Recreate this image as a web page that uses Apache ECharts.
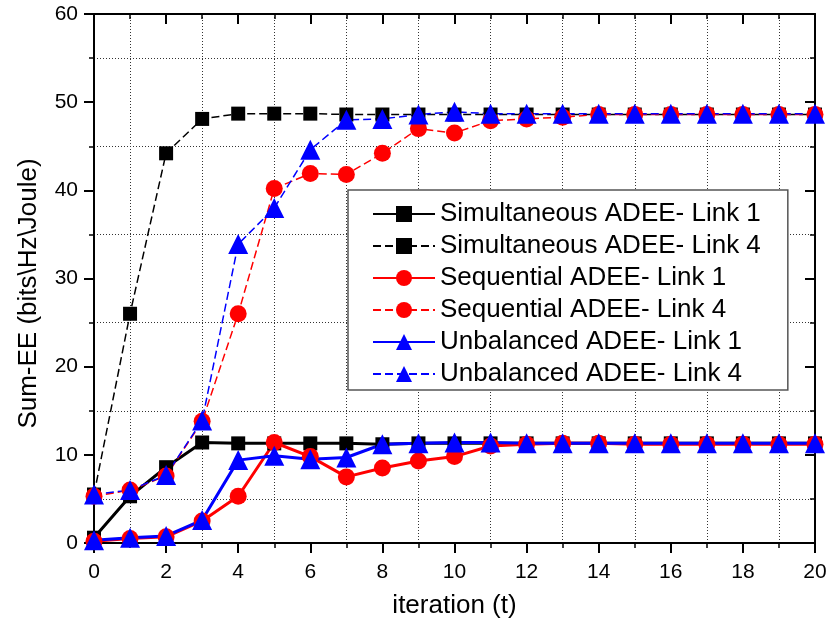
<!DOCTYPE html>
<html>
<head>
    <meta charset="utf-8">
    <title>Sum-EE vs iteration</title>
    <script src="https://cdn.jsdelivr.net/npm/echarts@6/dist/echarts.min.js"></script>
    <style>
        html, body { margin: 0; padding: 0; background: #fff; }
        #chart { width: 830px; height: 631px; }
    </style>
</head>
<body>
    <div id="chart"></div>
    <script type="text/javascript">
        // data
        var iterations = [0, 1, 2, 3, 4, 5, 6, 7, 8, 9, 10, 11, 12, 13, 14, 15, 16, 17, 18, 19, 20];
        var simLink1 = [0.6, 5.3, 8.6, 11.4, 11.3, 11.3, 11.3, 11.3, 11.2, 11.3, 11.3, 11.3, 11.3, 11.3, 11.3, 11.3, 11.3, 11.3, 11.3, 11.3, 11.3];
        var simLink4 = [5.5, 26.0, 44.2, 48.1, 48.7, 48.7, 48.7, 48.6, 48.6, 48.6, 48.6, 48.6, 48.6, 48.6, 48.6, 48.6, 48.6, 48.6, 48.6, 48.6, 48.6];
        var seqLink1 = [0.2, 0.5, 0.7, 2.5, 5.3, 11.4, 9.8, 7.5, 8.5, 9.3, 9.8, 11.0, 11.2, 11.3, 11.3, 11.2, 11.2, 11.2, 11.2, 11.2, 11.2];
        var seqLink4 = [5.3, 6.0, 7.6, 13.8, 26.0, 40.2, 41.9, 41.8, 44.2, 47.0, 46.5, 47.9, 48.1, 48.3, 48.6, 48.6, 48.6, 48.6, 48.6, 48.6, 48.6];
        var unbLink1 = [0.3, 0.6, 0.8, 2.6, 9.4, 9.9, 9.5, 9.7, 11.2, 11.3, 11.4, 11.4, 11.3, 11.3, 11.3, 11.3, 11.3, 11.3, 11.3, 11.3, 11.3];
        var unbLink4 = [5.5, 6.0, 7.7, 13.9, 33.9, 38.0, 44.6, 48.0, 48.1, 48.6, 48.9, 48.7, 48.7, 48.7, 48.7, 48.7, 48.7, 48.7, 48.7, 48.7, 48.7];

        var FONT = "'Liberation Sans', Arial, sans-serif";

        function pairs(vals) {
            return iterations.map(function (t, i) { return [t, vals[i]]; });
        }

        function mkSeries(name, vals, color, symbol, size, dashed) {
            return {
                name: name,
                type: 'line',
                xAxisIndex: 0,
                yAxisIndex: 0,
                data: pairs(vals),
                symbol: symbol,
                symbolSize: size,
                showAllSymbol: true,
                itemStyle: { color: color, opacity: 1 },
                lineStyle: dashed ? { color: color, width: 1.5, type: [8, 4] } : { color: color, width: 3 },
                emphasis: { disabled: true }
            };
        }

        var chart = echarts.init(document.getElementById('chart'));

        var tickStyle = { color: '#000', width: 2 };
        var minorTickStyle = { color: '#000', width: 1.5 };
        var gridLine = { show: true, lineStyle: { color: '#333', width: 1, type: [1, 2] } };

        var option = {
            animation: false,
            backgroundColor: '#fff',
            grid: { left: 94, right: 15, top: 14, bottom: 88 },
            legend: {
                orient: 'vertical',
                left: 348,
                top: 190,
                padding: [11, 27, 3, 24],
                itemWidth: 62,
                itemHeight: 20,
                itemGap: 6,
                backgroundColor: '#fff',
                borderColor: '#555',
                borderWidth: 1.5,
                textStyle: { fontFamily: FONT, fontSize: 26, color: '#000' },
                data: ['Simultaneous ADEE- Link 1', 'Simultaneous ADEE- Link 4',
                       'Sequential ADEE- Link 1', 'Sequential ADEE- Link 4',
                       'Unbalanced ADEE- Link 1', 'Unbalanced ADEE- Link 4']
            },
            xAxis: [{
                type: 'value', min: 0, max: 20, interval: 2,
                name: 'iteration (t)', nameLocation: 'middle', nameGap: 50,
                nameTextStyle: { fontFamily: FONT, fontSize: 26, color: '#000' },
                axisLine: { show: true, onZero: false, lineStyle: { color: '#000', width: 2 } },
                axisTick: { show: true, length: 10, lineStyle: tickStyle },
                minorTick: { show: true, splitNumber: 2, length: 5, lineStyle: minorTickStyle },
                axisLabel: { fontFamily: FONT, fontSize: 21, color: '#000', margin: 19 },
                splitLine: { show: false },
                minorSplitLine: gridLine
            }, {
                type: 'value', min: 0, max: 20, interval: 2, position: 'top',
                axisLine: { show: true, onZero: false, lineStyle: { color: '#000', width: 2 } },
                axisTick: { show: true, inside: true, length: 10, lineStyle: tickStyle },
                minorTick: { show: true, splitNumber: 2, length: 5, lineStyle: minorTickStyle },
                axisLabel: { show: false },
                splitLine: { show: false }
            }],
            yAxis: [{
                type: 'value', min: 0, max: 60, interval: 10,
                name: 'Sum-EE (bits\\Hz\\Joule)', nameLocation: 'middle', nameGap: 52,
                nameTextStyle: { fontFamily: FONT, fontSize: 26, color: '#000', padding: [0, 30, 0, 0] },
                axisLine: { show: true, onZero: false, lineStyle: { color: '#000', width: 2 } },
                axisTick: { show: true, length: 10, lineStyle: tickStyle },
                minorTick: { show: true, splitNumber: 2, length: 5, lineStyle: minorTickStyle },
                axisLabel: { fontFamily: FONT, fontSize: 21, color: '#000', margin: 16 },
                splitLine: { show: false },
                minorSplitLine: gridLine
            }, {
                type: 'value', min: 0, max: 60, interval: 10, position: 'right',
                axisLine: { show: true, onZero: false, lineStyle: { color: '#000', width: 2 } },
                axisTick: { show: true, inside: true, length: 10, lineStyle: tickStyle },
                minorTick: { show: true, splitNumber: 2, length: 5, lineStyle: minorTickStyle },
                axisLabel: { show: false },
                splitLine: { show: false }
            }],
            series: [
                mkSeries('Simultaneous ADEE- Link 1', simLink1, '#000000', 'rect', 14, false),
                mkSeries('Simultaneous ADEE- Link 4', simLink4, '#000000', 'rect', 14, true),
                mkSeries('Sequential ADEE- Link 1', seqLink1, '#ff0000', 'circle', 17, false),
                mkSeries('Sequential ADEE- Link 4', seqLink4, '#ff0000', 'circle', 17, true),
                mkSeries('Unbalanced ADEE- Link 1', unbLink1, '#0000ff', 'triangle', 20, false),
                mkSeries('Unbalanced ADEE- Link 4', unbLink4, '#0000ff', 'triangle', 20, true)
            ]
        };

        chart.setOption(option);
    </script>
</body>
</html>
